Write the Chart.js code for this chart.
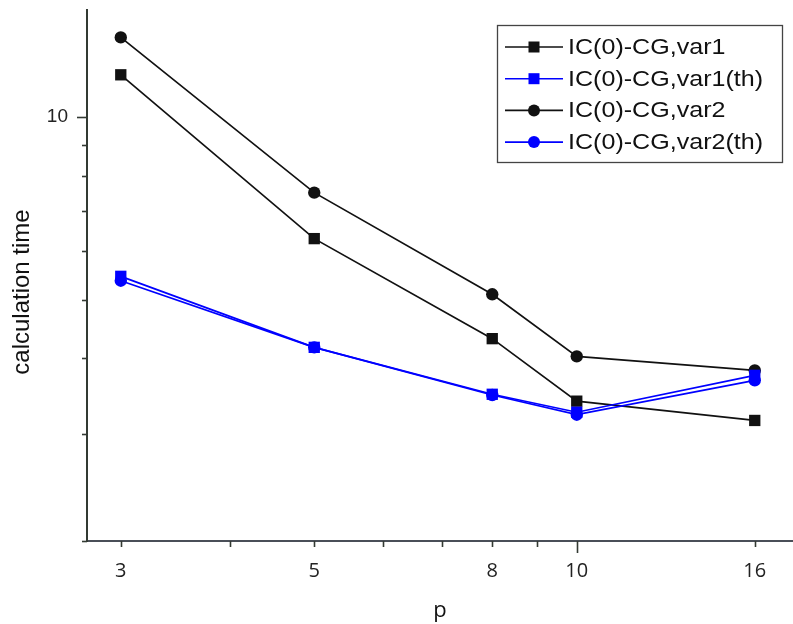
<!DOCTYPE html>
<html>
<head>
<meta charset="utf-8">
<script src="https://cdn.jsdelivr.net/npm/chart.js@4.4.1/dist/chart.umd.min.js"></script>
<style>
  html, body { margin: 0; padding: 0; background: #fff; overflow: hidden; }
  /* canvas is a bit wider than the view so the x axis runs to the right edge */
  #wrap { width: 793px; height: 624px; overflow: hidden; }
</style>
</head>
<body>
<div id="wrap"><canvas id="calcTime" width="801" height="624"></canvas></div>
<script>
// values
const pValues = [3, 5, 8, 10, 16];
const var1 = [11.73, 6.30, 4.31, 3.40, 3.16];
const var1th = [5.46, 4.17, 3.49, 3.26, 3.75];
const var2 = [13.52, 7.50, 5.10, 4.03, 3.82];
const var2th = [5.37, 4.17, 3.48, 3.23, 3.68];

const xTicks = [3, 4, 5, 6, 7, 8, 9, 10, 16];
const xLabels = [3, 5, 8, 10, 16];
const yTicks = [2, 3, 4, 5, 6, 7, 8, 9, 10];
const yLabels = [10];
const yTitle = 'calculation time';

const BLACK = '#111111';
const BLUE = '#0000ff';
const AXIS = '#333a33';

function pts(values) {
    return pValues.map((p, i) => ({ x: p, y: values[i] }));
}

function series(label, values, color, style, order) {
    return {
        label: label,
        data: pts(values),
        borderColor: color,
        backgroundColor: color,
        borderWidth: 1.7,
        pointStyle: style,
        pointRadius: style === 'rect' ? 8 : 6.2,
        pointBorderWidth: 0,
        tension: 0,
        order: order
    };
}

// tick marks drawn from the scales (major at 10 longer), plus the y title
const tickMarks = {
    id: 'tickMarks',
    afterDraw(chart) {
        const ctx = chart.ctx;
        const area = chart.chartArea;
        const xs = chart.scales.x, ys = chart.scales.y;
        ctx.save();
        ctx.strokeStyle = AXIS;
        ctx.lineWidth = 1.6;
        xTicks.forEach(v => {
            const px = Math.round(xs.getPixelForValue(v)) + 0.5;
            const len = v === 10 ? 12 : 6;
            ctx.beginPath();
            ctx.moveTo(px, area.bottom);
            ctx.lineTo(px, area.bottom + len);
            ctx.stroke();
        });
        yTicks.forEach(v => {
            const py = Math.round(ys.getPixelForValue(v)) + 0.5;
            const len = v === 10 ? 10 : 5;
            ctx.beginPath();
            ctx.moveTo(area.left - len, py);
            ctx.lineTo(area.left, py);
            ctx.stroke();
        });
        // y axis title, sits a little below the plot centre like the original
        ctx.translate(22, 292);
        ctx.rotate(-Math.PI / 2);
        ctx.fillStyle = '#111';
        ctx.font = '24px "Liberation Sans", Arial, sans-serif';
        ctx.textAlign = 'center';
        ctx.textBaseline = 'middle';
        ctx.fillText(yTitle, 0, 0);
        ctx.restore();
    }
};

// Origin style legend: line with the marker in the middle, boxed
const boxLegend = {
    id: 'boxLegend',
    afterDraw(chart) {
        const ctx = chart.ctx;
        const left = 497, top = 25, w = 285, h = 137;
        const rowH = 31.7, firstRow = 47;
        ctx.save();
        ctx.fillStyle = '#fff';
        ctx.fillRect(left, top, w, h);
        ctx.strokeStyle = '#444';
        ctx.lineWidth = 1.3;
        ctx.strokeRect(left + 0.5, top + 0.5, w, h);
        ctx.textBaseline = 'middle';
        chart.data.datasets.forEach((ds, i) => {
            const y = firstRow + i * rowH;
            ctx.strokeStyle = ds.borderColor;
            ctx.lineWidth = 1.6;
            ctx.beginPath();
            ctx.moveTo(505, y);
            ctx.lineTo(563, y);
            ctx.stroke();
            ctx.fillStyle = ds.backgroundColor;
            if (ds.pointStyle === 'rect') {
                ctx.fillRect(528.5, y - 5.5, 11, 11);
            } else {
                ctx.beginPath();
                ctx.arc(534, y, 6, 0, Math.PI * 2);
                ctx.fill();
            }
            ctx.save();
            ctx.translate(568, y + 1);
            ctx.scale(1.14, 1);
            ctx.font = '22px "Liberation Sans", Arial, sans-serif';
            ctx.fillStyle = '#111';
            ctx.fillText(ds.label, 0, 0);
            ctx.restore();
        });
        ctx.restore();
    }
};

new Chart(document.getElementById('calcTime'), {
    type: 'line',
    data: {
        datasets: [
            series('IC(0)-CG,var1', var1, BLACK, 'rect', 3),
            series('IC(0)-CG,var1(th)', var1th, BLUE, 'rect', 1),
            series('IC(0)-CG,var2', var2, BLACK, 'circle', 2),
            series('IC(0)-CG,var2(th)', var2th, BLUE, 'circle', 0)
        ]
    },
    options: {
        responsive: false,
        animation: false,
        layout: { padding: { top: 10, right: 0, left: 0, bottom: 0 } },
        plugins: {
            legend: { display: false },
            tooltip: { enabled: false }
        },
        scales: {
            x: {
                type: 'logarithmic',
                min: 2.744,
                max: 17.7,
                afterBuildTicks: function (scale) {
                    scale.ticks = xTicks.map(v => ({ value: v }));
                },
                afterFit: function (scale) {
                    scale.height = 83;
                    scale.paddingLeft = 0;
                    scale.paddingRight = 0;
                },
                grid: { display: false },
                border: { display: true, color: '#4a4f58', width: 2 },
                ticks: {
                    autoSkip: false,
                    maxRotation: 0,
                    padding: 10,
                    color: '#222',
                    font: { family: '"Open Sans", sans-serif', size: 20 },
                    callback: function (value) {
                        return xLabels.includes(value) ? String(value) : '';
                    }
                },
                title: {
                    display: true,
                    text: 'p',
                    color: '#111',
                    padding: { top: 2, bottom: 0 },
                    font: { family: '"Open Sans", sans-serif', size: 22 }
                }
            },
            y: {
                type: 'logarithmic',
                min: 2,
                max: 15,
                afterBuildTicks: function (scale) {
                    scale.ticks = yTicks.map(v => ({ value: v }));
                },
                afterFit: function (scale) {
                    scale.width = 87;
                    scale.paddingTop = 0;
                    scale.paddingBottom = 0;
                },
                grid: { display: false },
                border: { display: true, color: AXIS, width: 2 },
                ticks: {
                    autoSkip: false,
                    padding: 11,
                    color: '#222',
                    font: { family: '"Liberation Sans", Arial, sans-serif', size: 19 },
                    callback: function (value) {
                        return yLabels.includes(value) ? String(value) : '';
                    }
                }
            }
        }
    },
    plugins: [tickMarks, boxLegend]
});
</script>
</body>
</html>
